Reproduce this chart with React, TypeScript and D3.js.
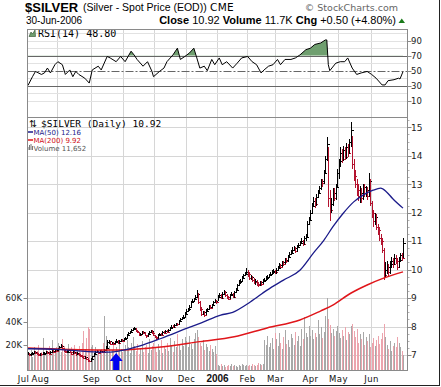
import React, { useEffect } from "react";
import * as d3 from "d3";

// ---------- DATA ----------
const HOLIDAYS = ["2005-07-04", "2005-09-05", "2005-11-24", "2005-12-26", "2006-01-02", "2006-01-16", "2006-02-20", "2006-04-14", "2006-05-29"];

const closeJul = [7.05, 7.0, 7.02, 7.06, 7.1, 7.08, 7.05, 7.0, 7.03, 7.02, 7.05, 7.06, 7.1, 7.08, 7.04, 7.1, 7.14, 7.12, 7.18, 7.15];
const highJul = [7.12, 7.08, 7.06, 7.1, 7.14, 7.13, 7.1, 7.07, 7.08, 7.07, 7.09, 7.11, 7.14, 7.13, 7.1, 7.14, 7.19, 7.18, 7.22, 7.21];
const lowJul = [7.0, 6.96, 6.97, 7.0, 7.04, 7.04, 7.01, 6.96, 6.98, 6.98, 7.0, 7.02, 7.04, 7.04, 7.0, 7.03, 7.08, 7.08, 7.1, 7.1];

const closeAug = [7.2, 7.28, 7.32, 7.25, 7.15, 7.1, 7.12, 7.18, 7.1, 7.05, 7.12, 7.08, 7.02, 7.06, 7.0, 6.98, 6.95, 6.9, 6.92, 6.85, 6.8, 6.78, 6.85];
const highAug = [7.24, 7.32, 7.38, 7.34, 7.26, 7.18, 7.17, 7.22, 7.19, 7.12, 7.16, 7.14, 7.09, 7.1, 7.07, 7.04, 7.01, 6.97, 6.97, 6.94, 6.88, 6.84, 6.9];
const lowAug = [7.13, 7.18, 7.25, 7.22, 7.12, 7.06, 7.07, 7.1, 7.07, 7.01, 7.04, 7.04, 6.98, 7.0, 6.96, 6.94, 6.91, 6.86, 6.87, 6.82, 6.76, 6.74, 6.77];

const closeSep = [6.95, 7.05, 7.1, 7.12, 7.08, 7.15, 7.12, 7.1, 7.18, 7.25, 7.45, 7.48, 7.4, 7.42, 7.38, 7.45, 7.5, 7.42, 7.48, 7.52, 7.5];
const highSep = [6.98, 7.08, 7.14, 7.16, 7.13, 7.18, 7.17, 7.14, 7.21, 7.3, 7.52, 7.54, 7.5, 7.46, 7.44, 7.48, 7.55, 7.52, 7.52, 7.56, 7.56];
const lowSep = [6.84, 6.93, 7.03, 7.07, 7.05, 7.07, 7.09, 7.06, 7.09, 7.16, 7.25, 7.4, 7.36, 7.37, 7.34, 7.37, 7.43, 7.39, 7.4, 7.45, 7.46];

const closeOct = [7.55, 7.6, 7.7, 7.78, 7.82, 7.88, 7.92, 7.95, 7.85, 7.8, 7.72, 7.75, 7.82, 7.78, 7.7, 7.65, 7.75, 7.8, 7.85, 7.78, 7.7];
const highOct = [7.58, 7.64, 7.74, 7.82, 7.86, 7.92, 7.96, 8.0, 7.96, 7.88, 7.82, 7.79, 7.86, 7.85, 7.8, 7.72, 7.78, 7.84, 7.89, 7.87, 7.8];
const lowOct = [7.48, 7.53, 7.58, 7.68, 7.75, 7.8, 7.85, 7.89, 7.82, 7.76, 7.68, 7.68, 7.73, 7.74, 7.66, 7.6, 7.64, 7.72, 7.77, 7.74, 7.66];

const closeNov = [7.62, 7.58, 7.7, 7.75, 7.72, 7.8, 7.78, 7.85, 7.82, 7.88, 7.95, 8.0, 7.98, 8.05, 8.1, 8.08, 8.2, 8.25, 8.3, 8.35, 8.45];
const highNov = [7.72, 7.66, 7.73, 7.79, 7.78, 7.84, 7.83, 7.88, 7.87, 7.92, 7.99, 8.05, 8.04, 8.09, 8.14, 8.13, 8.24, 8.29, 8.34, 8.4, 8.5];
const lowNov = [7.58, 7.54, 7.56, 7.68, 7.68, 7.7, 7.74, 7.76, 7.78, 7.8, 7.86, 7.92, 7.94, 7.95, 8.02, 8.03, 8.06, 8.17, 8.22, 8.27, 8.32];

const closeDec = [8.55, 8.6, 8.7, 8.85, 8.9, 8.95, 9.05, 9.15, 8.85, 8.6, 8.45, 8.5, 8.4, 8.55, 8.6, 8.7, 8.65, 8.75, 8.85, 8.9, 8.85];
const highDec = [8.6, 8.66, 8.76, 8.9, 8.96, 9.0, 9.1, 9.28, 9.18, 8.9, 8.68, 8.56, 8.55, 8.6, 8.66, 8.75, 8.74, 8.8, 8.9, 8.95, 8.93];
const lowDec = [8.42, 8.5, 8.56, 8.68, 8.82, 8.86, 8.92, 9.02, 8.8, 8.55, 8.38, 8.4, 8.35, 8.4, 8.5, 8.58, 8.6, 8.64, 8.72, 8.82, 8.8];

const closeJan = [9.05, 9.1, 9.0, 9.15, 9.2, 9.1, 9.05, 8.98, 9.1, 9.15, 9.05, 9.2, 9.3, 9.45, 9.55, 9.6, 9.7, 9.8, 9.85, 9.9];
const highJan = [9.1, 9.18, 9.14, 9.2, 9.28, 9.24, 9.14, 9.08, 9.15, 9.22, 9.18, 9.25, 9.36, 9.5, 9.62, 9.66, 9.76, 9.86, 9.92, 10.05];
const lowJan = [8.88, 9.0, 8.95, 8.98, 9.1, 9.05, 8.98, 8.92, 8.96, 9.06, 9.0, 9.02, 9.18, 9.28, 9.42, 9.5, 9.56, 9.66, 9.76, 9.8];

const closeFeb = [9.85, 9.7, 9.75, 9.65, 9.55, 9.6, 9.5, 9.45, 9.55, 9.5, 9.6, 9.65, 9.7, 9.75, 9.8, 9.85, 9.9, 9.95, 9.9];
const highFeb = [10.0, 9.9, 9.82, 9.78, 9.7, 9.66, 9.64, 9.56, 9.6, 9.6, 9.66, 9.72, 9.78, 9.82, 9.86, 9.92, 9.98, 10.02, 10.0];
const lowFeb = [9.75, 9.64, 9.62, 9.58, 9.48, 9.46, 9.42, 9.38, 9.42, 9.44, 9.48, 9.56, 9.6, 9.64, 9.7, 9.76, 9.8, 9.86, 9.84];

const closeMar = [9.98, 10.05, 10.15, 10.1, 10.25, 10.2, 10.35, 10.3, 10.45, 10.55, 10.6, 10.7, 10.75, 10.65, 10.8, 10.85, 10.95, 11.0, 10.9, 11.1, 11.15, 11.6, 11.75];
const highMar = [10.05, 10.12, 10.22, 10.2, 10.32, 10.3, 10.42, 10.4, 10.52, 10.62, 10.68, 10.78, 10.84, 10.8, 10.88, 10.94, 11.02, 11.1, 11.05, 11.18, 11.25, 11.7, 11.85];
const lowMar = [9.85, 9.95, 10.02, 10.04, 10.08, 10.12, 10.18, 10.24, 10.28, 10.4, 10.5, 10.56, 10.64, 10.58, 10.62, 10.75, 10.82, 10.9, 10.82, 10.88, 11.02, 11.12, 11.55];

const closeApr = [12.0, 12.25, 12.4, 12.3, 12.55, 12.7, 12.85, 13.1, 13.05, 13.4, 13.9, 14.4, 12.5, 12.1, 12.3, 12.7, 12.5, 12.9, 13.4];
const highApr = [12.1, 12.35, 12.55, 12.5, 12.65, 12.8, 12.95, 13.2, 13.2, 13.5, 14.0, 14.65, 14.3, 12.8, 12.5, 12.85, 12.85, 13.0, 13.55];
const lowApr = [11.7, 11.95, 12.2, 12.15, 12.25, 12.5, 12.65, 12.8, 12.9, 13.0, 13.35, 13.8, 12.2, 11.7, 12.0, 12.25, 12.4, 12.45, 12.85];

const closeMay = [13.8, 14.1, 13.9, 14.2, 13.95, 14.3, 14.1, 14.5, 14.9, 13.7, 13.3, 13.0, 12.8, 12.6, 12.7, 12.5, 12.9, 12.7, 12.8, 12.6, 13.1, 12.35];
const highMay = [13.9, 14.3, 14.25, 14.35, 14.3, 14.45, 14.4, 14.6, 15.2, 14.7, 13.9, 13.5, 13.2, 13.0, 12.95, 12.85, 13.0, 13.0, 12.95, 12.9, 13.4, 13.2];
const lowMay = [13.2, 13.6, 13.75, 13.8, 13.85, 13.9, 13.95, 14.05, 14.3, 13.55, 13.1, 12.85, 12.6, 12.4, 12.35, 12.35, 12.45, 12.55, 12.55, 12.45, 12.55, 12.25];

const closeJun = [12.0, 11.7, 11.85, 11.5, 11.4, 11.1, 11.0, 10.7, 9.8, 10.0, 10.1, 9.9, 10.2, 10.3, 10.2, 10.4, 10.3, 10.1, 10.35, 10.5, 10.42, 10.92];
const highJun = [12.4, 12.1, 12.0, 11.95, 11.6, 11.5, 11.25, 11.1, 10.75, 10.25, 10.3, 10.2, 10.3, 10.45, 10.4, 10.55, 10.5, 10.4, 10.45, 10.6, 10.6, 11.1];
const lowJun = [11.8, 11.5, 11.55, 11.4, 11.2, 11.0, 10.85, 10.6, 9.65, 9.7, 9.85, 9.75, 9.85, 10.05, 10.05, 10.15, 10.2, 10.0, 10.05, 10.25, 10.3, 10.4];

// volume in thousands
const volJul = [14, 12, 16, 10, 18, 12, 15, 20, 11, 14, 26, 13, 17, 12, 19, 15, 24, 13, 16, 18];
const volAug = [22, 17, 14, 25, 19, 12, 16, 21, 13, 18, 15, 20, 12, 16, 19, 14, 22, 32, 17, 26, 35, 34, 18];
const volSep = [20, 15, 18, 12, 16, 14, 17, 22, 45, 28, 24, 19, 13, 16, 21, 12, 18, 15, 23, 17, 14];
const volOct = [16, 20, 24, 18, 13, 22, 27, 19, 15, 21, 12, 17, 23, 14, 18, 20, 13, 25, 16, 19, 22];
const volNov = [18, 14, 21, 16, 24, 13, 19, 17, 22, 15, 26, 20, 14, 23, 18, 29, 21, 16, 25, 19, 27];
const volDec = [23, 18, 28, 21, 17, 25, 30, 33, 27, 22, 19, 24, 16, 21, 18, 15, 20, 17, 14, 19, 12];
const volJan = [3, 2, 4, 2, 3, 1, 2, 3, 2, 4, 2, 3, 2, 1, 3, 2, 4, 3, 2, 3];
const volFeb = [2, 3, 2, 4, 3, 2, 3, 5, 4, 3, 4, 24, 20, 28, 18, 22, 26, 17, 30];
const volMar = [25, 19, 30, 22, 17, 27, 33, 21, 24, 18, 29, 26, 20, 31, 23, 28, 19, 34, 25, 44, 30, 27, 36];
const volApr = [28, 33, 25, 30, 27, 41, 29, 35, 26, 31, 45, 60, 42, 37, 30, 34, 28, 32, 36];
const volMay = [30, 26, 33, 28, 35, 24, 31, 29, 36, 38, 32, 27, 34, 22, 29, 25, 31, 20, 27, 23, 29, 18];
const volJun = [22, 26, 19, 24, 28, 21, 25, 30, 38, 27, 20, 17, 23, 15, 19, 22, 18, 27, 22, 18, 15, 11.652];

// moving averages: [trading-day index, value]
const MA50_PTS: [number, number][] = [[0, 7.22], [20, 7.2], [40, 7.12], [55, 7.1], [62, 7.15], [75, 7.32], [89, 7.58], [107, 7.95], [116, 8.13], [129, 8.4], [137, 8.5], [149, 8.87], [160, 9.28], [171, 9.63], [182, 9.98], [191, 10.58], [198, 11.03], [204, 11.5], [211, 11.98], [218, 12.38], [224, 12.61], [231, 12.79], [236, 12.86], [240, 12.73], [244, 12.5], [251, 12.16]];
const MA200_PTS: [number, number][] = [[0, 7.25], [49, 7.18], [62, 7.18], [89, 7.28], [115, 7.47], [138, 7.64], [160, 7.95], [182, 8.23], [196, 8.55], [204, 8.75], [216, 9.17], [227, 9.46], [238, 9.7], [251, 9.92]];

// RSI(14): [trading-day index, value]
const RSI_PTS: [number, number][] = [[0, 30.4], [3, 42], [5, 49], [9, 45], [11, 47], [13, 53.5], [15, 47], [18, 58], [20, 62], [23, 58], [25, 45], [28, 51], [30, 42], [32, 49], [34, 45], [38, 40], [41, 33.5], [43, 51], [47, 56], [49, 51], [53, 69], [55, 67], [59, 62], [62, 69], [65, 62], [69, 76], [71, 71], [73, 65], [77, 56], [80, 62], [83, 49], [84, 42], [88, 49], [91, 53.5], [93, 62], [97, 71], [100, 80], [102, 65], [105, 69], [108, 73.5], [111, 80], [113, 67], [115, 53.5], [118, 56], [120, 50], [123, 65], [125, 58], [128, 67], [130, 58], [133, 62], [137, 53.5], [140, 60], [143, 67], [147, 69], [150, 62], [153, 58], [156, 47], [158, 51], [161, 56], [164, 58], [167, 65], [169, 58], [172, 65], [176, 65], [179, 67], [182, 71], [186, 78], [189, 80], [192, 85], [196, 87], [199, 91], [200, 91], [201, 58], [202, 50], [206, 60], [209, 62], [212, 62], [214, 67], [217, 53.5], [220, 45], [223, 47], [227, 49], [230, 45], [233, 40], [237, 31], [239, 31], [241, 36.7], [245, 38], [248, 40], [249, 39], [251, 48.8]];

const ARROW_DAY = 59; // blue annotation arrow (trading-day index)
const MONTH_LABELS = ["Jul", "Aug", "Sep", "Oct", "Nov", "Dec", "2006", "Feb", "Mar", "Apr", "May", "Jun"];
const PRICE_TICKS = [7, 8, 9, 10, 11, 12, 13, 14, 15];
const RSI_TICKS = [10, 30, 50, 70, 90];
const VOL_TICKS = [20, 40, 60];

const CLOSES = [...closeJul, ...closeAug, ...closeSep, ...closeOct, ...closeNov, ...closeDec, ...closeJan, ...closeFeb, ...closeMar, ...closeApr, ...closeMay, ...closeJun];
const HIGHS = [...highJul, ...highAug, ...highSep, ...highOct, ...highNov, ...highDec, ...highJan, ...highFeb, ...highMar, ...highApr, ...highMay, ...highJun];
const LOWS = [...lowJul, ...lowAug, ...lowSep, ...lowOct, ...lowNov, ...lowDec, ...lowJan, ...lowFeb, ...lowMar, ...lowApr, ...lowMay, ...lowJun];
const VOLS = [...volJul, ...volAug, ...volSep, ...volOct, ...volNov, ...volDec, ...volJan, ...volFeb, ...volMar, ...volApr, ...volMay, ...volJun];

function tradingDays(): Date[] {
  const out: Date[] = [];
  const fmt = d3.timeFormat("%Y-%m-%d");
  const d = new Date(2005, 6, 1);
  const end = new Date(2006, 5, 30);
  while (d <= end) {
    const wd = d.getDay();
    if (wd !== 0 && wd !== 6 && !HOLIDAYS.includes(fmt(d))) out.push(new Date(d));
    d.setDate(d.getDate() + 1);
  }
  return out;
}

// ---------- LAYOUT ----------
const PL = 27.5, PR = 407.5;
const RSI_TOP = 29.5, RSI_BOT = 117.5;
const MAIN_TOP = 117.5, MAIN_BOT = 370.5;
const GRID = "#d6d6d6";
const AXIS = "#8a8a8a";
const SANS = "'Liberation Sans', Arial, sans-serif";
const VERD = "'DejaVu Sans', Verdana, sans-serif";
const MONO = "'DejaVu Sans Mono', 'Liberation Mono', monospace";

export default function App() {
  useEffect(() => {
    document.body.style.margin = "0";
  }, []);

  const days = tradingDays();
  const N = CLOSES.length;
  const x = d3.scaleLinear().domain([0, N - 1]).range([28, 403]);
  const yP = d3.scaleLinear().domain([7, 15]).range([355, 127.3]);
  const yR = d3.scaleLinear().domain([0, 100]).range([108.2, 33.2]);
  const yV = d3.scaleLinear().domain([0, 60]).range([368.5, 298]);

  const monthStarts: number[] = [0];
  for (let i = 1; i < days.length; i++) {
    if (days[i].getMonth() !== days[i - 1].getMonth()) monthStarts.push(i);
  }
  const gridX = (i: number) => Math.round(x(i) - 0.75) + 0.5;

  const rsiLine = d3.line<[number, number]>().x((d) => x(d[0])).y((d) => yR(d[1]));
  const rsiArea = d3
    .area<[number, number]>()
    .x((d) => x(d[0]))
    .y0(yR(70))
    .y1((d) => yR(d[1]));
  const maLine = d3
    .line<[number, number]>()
    .x((d) => x(d[0]))
    .y((d) => yP(d[1]))
    .curve(d3.curveMonotoneX);

  const minorTicks = d3.range(7, 15.3, 0.25).filter((v) => Math.abs(v - Math.round(v)) > 0.01);

  const ax = x(ARROW_DAY);
  const arrowPts = [
    [ax, 353],
    [ax - 6.5, 361],
    [ax - 3, 361],
    [ax - 3, 370],
    [ax + 3, 370],
    [ax + 3, 361],
    [ax + 6.5, 361],
  ]
    .map((p) => p.join(","))
    .join(" ");

  const labelX = (k: number) => {
    const g = gridX(monthStarts[k]);
    if (k === 0) return g - 4;
    if (k === 1) return g - 17;
    return g;
  };

  return (
    <svg
      width={441}
      height={387}
      style={{ position: "absolute", left: 0, top: 0, background: "#fff" }}
      fontFamily={SANS}
    >
      <defs>
        <clipPath id="rsiAbove">
          <rect x={PL} y={RSI_TOP} width={PR - PL} height={yR(70) - RSI_TOP} />
        </clipPath>
        <clipPath id="mainClip">
          <rect x={PL} y={MAIN_TOP} width={PR - PL} height={MAIN_BOT - MAIN_TOP} />
        </clipPath>
      </defs>
      <rect x={0} y={0} width={441} height={387} fill="#fff" />

      {/* header */}
      <text x={25} y={11.5} fontSize={13} fontWeight="bold" fill="#000">$SILVER</text>
      <text x={83} y={11} fontSize={10.5} fill="#000">(Silver - Spot Price (EOD))</text>
      <text x={210} y={11} fontSize={10.5} fill="#000" fontFamily={VERD} letterSpacing={0.3}>CME</text>
      <text x={398} y={10.5} fontSize={9.5} fill="#666" textAnchor="end" fontFamily={VERD}>© StockCharts.com</text>
      <text x={26} y={23.5} fontSize={10} fill="#000">30-Jun-2006</text>
      <text x={396} y={23.5} textAnchor="end" fontSize={11} fill="#000">
        <tspan fontWeight="bold">Close</tspan>
        <tspan> 10.92 </tspan>
        <tspan fontWeight="bold">Volume</tspan>
        <tspan> 11.7K </tspan>
        <tspan fontWeight="bold">Chg</tspan>
        <tspan> +0.50 (+4.80%)</tspan>
      </text>
      <polygon points="398.5,23 405,23 401.75,18.5" fill="#1a7a1a" />

      {/* grid */}
      {monthStarts.slice(1).map((i) => (
        <line key={"vg" + i} x1={gridX(i)} x2={gridX(i)} y1={RSI_TOP} y2={MAIN_BOT} stroke={GRID} strokeWidth={1} />
      ))}
      {[10, 20, 40, 60, 80, 90, 100].map((v) => (
        <line key={"rg" + v} x1={PL} x2={PR} y1={Math.round(yR(v)) + 0.5} y2={Math.round(yR(v)) + 0.5} stroke="#e2e2e2" />
      ))}
      {PRICE_TICKS.map((v) => (
        <line key={"pg" + v} x1={PL} x2={PR} y1={Math.round(yP(v)) + 0.5} y2={Math.round(yP(v)) + 0.5} stroke={GRID} />
      ))}

      {/* RSI panel */}
      <g clipPath="url(#rsiAbove)">
        <path d={rsiArea(RSI_PTS) || ""} fill="#6f9f6f" />
      </g>
      <line x1={PL} x2={PR} y1={Math.round(yR(70)) + 0.5} y2={Math.round(yR(70)) + 0.5} stroke="#666" />
      <line x1={PL} x2={PR} y1={Math.round(yR(30)) + 0.5} y2={Math.round(yR(30)) + 0.5} stroke="#666" />
      <line x1={PL} x2={PR} y1={Math.round(yR(50)) + 0.5} y2={Math.round(yR(50)) + 0.5} stroke="#666" strokeDasharray="8,2,2,2" />
      <path d={rsiLine(RSI_PTS) || ""} fill="none" stroke="#000" strokeWidth={1} />
      <polygon points="29,36.5 31,32 32.5,34 35,30 35.5,36.5" fill="#6f9f6f" stroke="#2d4d2d" strokeWidth={0.6} />
      <text x={38} y={37} fontSize={10} fontFamily={MONO} fill="#000">RSI(14) 48.80</text>
      {RSI_TICKS.map((v) => (
        <g key={"rt" + v}>
          <line x1={PR} x2={PR + 4} y1={Math.round(yR(v)) + 0.5} y2={Math.round(yR(v)) + 0.5} stroke={AXIS} />
          <text x={411} y={yR(v) + 3} fontSize={8.5} fontFamily={VERD} fill="#222">{v}</text>
        </g>
      ))}

      {/* main panel: volume */}
      <g shapeRendering="crispEdges">
        {VOLS.map((v, i) => {
          const up = i === 0 ? true : CLOSES[i] >= CLOSES[i - 1];
          return (
            <rect
              key={"v" + i}
              x={Math.round(x(i))}
              y={yV(v)}
              width={1}
              height={Math.max(0, MAIN_BOT - 0.5 - yV(v))}
              fill={up ? "#a8a8a8" : "#eca4ad"}
            />
          );
        })}
      </g>

      {/* price bars */}
      <g shapeRendering="crispEdges" clipPath="url(#mainClip)">
        {CLOSES.map((c, i) => {
          const up = i === 0 ? true : c >= CLOSES[i - 1];
          const col = up ? "#000" : "#b3122e";
          const xx = Math.round(x(i)) + 0.5;
          const yc = Math.round(yP(c)) + 0.5;
          return (
            <g key={"b" + i} stroke={col} strokeWidth={1}>
              <line x1={xx} x2={xx} y1={yP(HIGHS[i])} y2={yP(LOWS[i])} />
              <line x1={xx} x2={xx + 2} y1={yc} y2={yc} />
            </g>
          );
        })}
      </g>

      {/* moving averages */}
      <g clipPath="url(#mainClip)">
        <path d={maLine(MA200_PTS) || ""} fill="none" stroke="#e0161b" strokeWidth={1.5} />
        <path d={maLine(MA50_PTS) || ""} fill="none" stroke="#1b1b8a" strokeWidth={1.3} />
      </g>

      {/* annotation arrow */}
      <polygon points={arrowPts} fill="#0000f0" />

      {/* legend */}
      <text x={29} y={126.8} fontSize={9.5} fontFamily={VERD} fill="#000">⇅</text>
      <text x={41} y={126.8} fontSize={9.5} fontFamily={MONO} fill="#000">$SILVER (Daily) 10.92</text>
      <line x1={27} x2={33} y1={132} y2={132} stroke="#1b1b8a" strokeWidth={1.5} />
      <text x={33.5} y={134.5} fontSize={7} fontFamily={VERD} fill="#1b1b8a">MA(50) 12.16</text>
      <line x1={27} x2={33} y1={140} y2={140} stroke="#e0161b" strokeWidth={1.5} />
      <text x={33.5} y={142.5} fontSize={7} fontFamily={VERD} fill="#d01018">MA(200) 9.92</text>
      <g fill="#777">
        <rect x={27.5} y={147} width={1} height={3} />
        <rect x={29} y={145} width={1} height={5} />
        <rect x={30.5} y={144} width={1} height={6} />
        <rect x={32} y={146} width={1} height={4} />
      </g>
      <text x={33.5} y={150.5} fontSize={7} fontFamily={VERD} fill="#555">Volume 11,652</text>

      {/* price axis */}
      {PRICE_TICKS.map((v) => (
        <g key={"pt" + v}>
          <line x1={PR} x2={PR + 4} y1={Math.round(yP(v)) + 0.5} y2={Math.round(yP(v)) + 0.5} stroke={AXIS} />
          <text x={411} y={yP(v) + 3.3} fontSize={9} fontFamily={VERD} fill="#222">{v}</text>
        </g>
      ))}
      {minorTicks.map((v) => (
        <line key={"mt" + v} x1={PR} x2={PR + 2} y1={Math.round(yP(v)) + 0.5} y2={Math.round(yP(v)) + 0.5} stroke="#b0b0b0" />
      ))}

      {/* volume axis */}
      {VOL_TICKS.map((v) => (
        <g key={"vt" + v}>
          <line x1={PL - 4} x2={PL} y1={Math.round(yV(v)) + 0.5} y2={Math.round(yV(v)) + 0.5} stroke={AXIS} />
          <text x={22} y={yV(v) + 3.3} fontSize={8.5} fontFamily={VERD} fill="#222" textAnchor="end">{v}K</text>
        </g>
      ))}

      {/* panel frames */}
      <rect x={PL} y={RSI_TOP} width={PR - PL} height={RSI_BOT - RSI_TOP} fill="none" stroke={AXIS} />
      <rect x={PL} y={MAIN_TOP} width={PR - PL} height={MAIN_BOT - MAIN_TOP} fill="none" stroke={AXIS} />

      {/* x axis labels */}
      {MONTH_LABELS.map((m, k) => (
        <text
          key={"ml" + k}
          x={labelX(k)}
          y={381.5}
          fontSize={m === "2006" ? 10 : 8.5}
          fontWeight={m === "2006" ? "bold" : "normal"}
          fontFamily={m === "2006" ? SANS : VERD}
          letterSpacing={m === "2006" ? 0 : 0.4}
          textAnchor="middle"
          fill="#111"
        >
          {m}
        </text>
      ))}

      {/* outer frame */}
      <line x1={439.5} x2={439.5} y1={0} y2={386} stroke="#222" />
      <line x1={0} x2={440} y1={385.5} y2={385.5} stroke="#222" />
    </svg>
  );
}
